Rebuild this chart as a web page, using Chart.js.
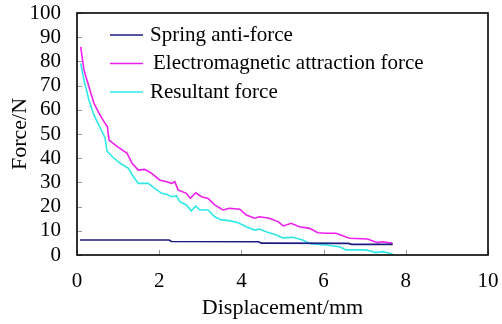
<!DOCTYPE html>
<html>
<head>
<meta charset="utf-8">
<script src="https://cdn.jsdelivr.net/npm/chart.js@4.4.1/dist/chart.umd.min.js"></script>
<style>
html,body{margin:0;padding:0;background:#fff;}
canvas{display:block;}
</style>
</head>
<body>
<canvas id="c" width="502" height="324"></canvas>
<script>
// ---- data ----
const springX = [0.07, 2.24, 2.30, 4.42, 4.48, 6.60, 6.68, 7.68];
const springY = [6.2, 6.2, 5.6, 5.5, 4.9, 4.8, 4.4, 4.4];

const emX = [0.09,0.17,0.29,0.41,0.53,0.66,0.74,0.78,0.98,1.22,1.34,1.49,1.65,1.81,2.01,2.18,2.30,2.38,2.46,2.66,2.76,2.89,3.03,3.19,3.35,3.55,3.71,3.96,4.12,4.32,4.44,4.68,4.89,5.02,5.21,5.41,5.66,5.86,6.06,6.30,6.63,7.07,7.31,7.44,7.68];
const emY = [86,76.4,69.5,62.8,58.7,55,53,47.5,44.8,42,37.9,35.1,35.4,33.8,31,30.3,29.6,30.3,26.9,25.5,23.4,25.7,24.1,23.4,20.7,18.6,19.3,18.9,16.5,15.2,15.8,15.2,13.8,12.0,13.1,11.7,11.0,9.2,9.0,9.0,6.9,6.6,5.1,5.5,4.8];

const resX = [0.09,0.17,0.29,0.41,0.57,0.68,0.73,0.86,1.05,1.25,1.37,1.49,1.73,1.89,2.06,2.18,2.30,2.42,2.50,2.66,2.78,2.89,2.99,3.19,3.35,3.51,3.71,3.92,4.12,4.32,4.44,4.60,4.85,5.00,5.25,5.49,5.66,5.82,6.06,6.38,6.55,7.03,7.27,7.44,7.68];
const resY = [79.2,72.3,64,57.9,52.3,48.5,43,40.6,37.9,35.8,32.4,29.6,29.6,27.5,25.5,25.1,24.1,24.4,22.0,20.7,18.3,20.2,18.6,18.6,15.8,14.5,14.2,13.3,11.7,10.3,10.7,9.6,8.3,7.1,7.3,6.2,4.8,4.5,4.1,3.4,2.1,2.1,1.0,1.4,0.4];

const seriesNames = ['Spring anti-force', 'Electromagnetic attraction force', 'Resultant force'];
const xTickValues = [0, 2, 4, 6, 8, 10];
const yTickValues = [0, 10, 20, 30, 40, 50, 60, 70, 80, 90, 100];

// ---- styles ----
const colors = ['#1c1c80', '#ee1fee', '#2ee8e8'];
const FONT = 'Liberation Serif';
Chart.defaults.font.family = FONT;
Chart.defaults.color = '#000';

const toPts = (xs, ys) => xs.map((x, i) => ({x, y: ys[i]}));

const framePlugin = {
  id: 'frame',
  afterDraw(chart) {
    const {ctx, chartArea: a, scales: {x, y}} = chart;
    ctx.save();
    // inward tick marks
    ctx.strokeStyle = '#9a9a9a';
    ctx.lineWidth = 1;
    ctx.beginPath();
    yTickValues.forEach(v => {
      const py = Math.round(y.getPixelForValue(v)) + 0.5;
      ctx.moveTo(a.left, py); ctx.lineTo(a.left + 5, py);
    });
    xTickValues.forEach(v => {
      const px = Math.round(x.getPixelForValue(v)) + 0.5;
      ctx.moveTo(px, a.bottom); ctx.lineTo(px, a.bottom - 5);
    });
    ctx.stroke();
    // frame
    ctx.strokeStyle = '#000';
    ctx.lineWidth = 1.6;
    ctx.strokeRect(a.left, a.top, a.right - a.left, a.bottom - a.top);
    // legend
    ctx.font = '21px "' + FONT + '"';
    ctx.textBaseline = 'middle';
    ctx.textAlign = 'left';
    const lx = a.left + 33, ly = a.top + 22, gap = 28.5;
    seriesNames.forEach((name, i) => {
      const yy = ly + i * gap;
      ctx.strokeStyle = colors[i];
      ctx.lineWidth = 1.6;
      ctx.beginPath();
      ctx.moveTo(lx, yy); ctx.lineTo(lx + 33, yy);
      ctx.stroke();
      ctx.fillStyle = '#000';
      ctx.fillText(name, lx + 40 + (i === 1 ? 3 : 0), yy);
    });
    ctx.restore();
  }
};

new Chart(document.getElementById('c'), {
  type: 'line',
  data: {
    datasets: [
      {label: seriesNames[0], data: toPts(springX, springY), borderColor: colors[0]},
      {label: seriesNames[1], data: toPts(emX, emY), borderColor: colors[1]},
      {label: seriesNames[2], data: toPts(resX, resY), borderColor: colors[2]}
    ]
  },
  options: {
    responsive: false,
    animation: false,
    devicePixelRatio: 1,
    elements: {
      point: {radius: 0},
      line: {borderWidth: 1.6, tension: 0}
    },
    layout: {padding: {top: 13, right: 14, left: 0, bottom: 0}},
    plugins: {legend: {display: false}, tooltip: {enabled: false}},
    scales: {
      x: {
        type: 'linear', min: 0, max: 10,
        afterFit: s => { s.height = 69; s.paddingLeft = 0; s.paddingRight = 0; },
        ticks: {stepSize: 2, padding: 6, font: {size: 21}, maxRotation: 0, autoSkip: false},
        grid: {display: false},
        border: {display: false},
        title: {display: true, text: 'Displacement/mm', font: {size: 22}, padding: {top: 0, bottom: 3}}
      },
      y: {
        type: 'linear', min: 0, max: 100,
        afterFit: s => { s.width = 77; s.paddingTop = 0; s.paddingBottom = 0; },
        ticks: {stepSize: 10, padding: 8, font: {size: 21}, autoSkip: false},
        grid: {display: false},
        border: {display: false},
        title: {display: true, text: 'Force/N', font: {size: 22}, padding: {top: 7, bottom: 0}}
      }
    }
  },
  plugins: [framePlugin]
});
</script>
</body>
</html>
